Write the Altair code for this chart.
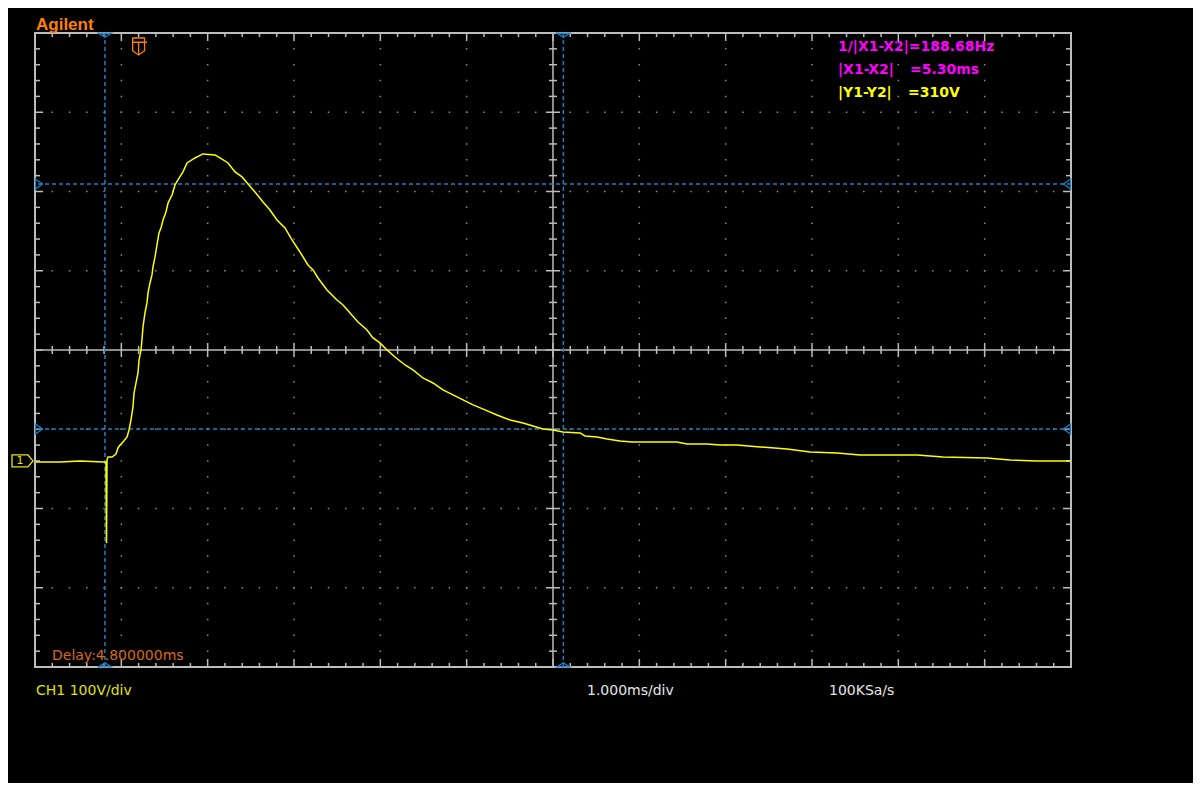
import altair as alt
import numpy as np
import pandas as pd

# ---------------- data (time in ms, voltage in V) ----------------
trace_t = [-1.19, -0.91, -0.68, -0.40, -0.378, -0.372, -0.366, -0.354, -0.308, -0.262,
           -0.239, -0.215, -0.181, -0.134, -0.111, -0.088, -0.065, -0.053, -0.030, -0.007,
           0.005, 0.028, 0.039, 0.051, 0.074, 0.097, 0.109, 0.132, 0.155, 0.167,
           0.190, 0.213, 0.236, 0.259, 0.283, 0.317, 0.341, 0.387, 0.422, 0.456,
           0.514, 0.561, 0.653, 0.746, 0.885, 0.943, 1.036, 1.117, 1.198, 1.267,
           1.348, 1.441, 1.522, 1.603, 1.696, 1.777, 1.869, 1.962, 2.020, 2.078,
           2.182, 2.298, 2.368, 2.449, 2.541, 2.646, 2.715, 2.796, 2.877, 2.970,
           3.086, 3.178, 3.294, 3.410, 3.526, 3.642, 3.758, 3.874, 4.012, 4.151,
           4.302, 4.453, 4.568, 4.684, 4.800, 4.916, 5.113, 5.171, 5.310, 5.426,
           5.576, 5.715, 6.236, 6.352, 6.584, 6.734, 6.931, 7.198, 7.510, 7.777,
           8.090, 8.356, 9.016, 9.317, 9.827, 10.093, 10.406, 10.788]
trace_v = [-1.3, -1.3, 0.0, -1.3, -1.0, -103.5, 1.3, 5.0, 5.0, 8.8,
           16.4, 20.2, 24.0, 30.3, 39.1, 51.7, 68.1, 85.8, 98.4, 111.0,
           127.4, 140.1, 152.7, 169.1, 186.7, 199.4, 212.0, 224.6, 234.7, 244.8,
           257.4, 272.5, 287.7, 294.0, 304.1, 314.2, 325.5, 335.6, 348.3, 354.6,
           364.7, 376.0, 382.3, 387.4, 386.1, 382.3, 376.0, 364.7, 358.4, 349.5,
           339.4, 326.8, 316.7, 304.1, 294.0, 278.9, 263.7, 247.3, 241.0, 230.9,
           215.8, 203.1, 196.8, 186.7, 175.4, 165.3, 155.2, 148.9, 140.1, 131.2,
           121.1, 114.8, 104.7, 98.4, 89.6, 83.3, 77.0, 70.7, 64.4, 58.0,
           51.7, 47.9, 44.2, 40.4, 39.1, 36.6, 35.3, 31.5, 30.3, 27.8,
           25.2, 24.0, 24.0, 21.5, 21.5, 20.2, 20.2, 17.7, 15.1, 11.4,
           10.1, 7.6, 7.6, 5.0, 3.8, 1.3, 0.0, 0.0]

x_cursors = [-0.39, 4.92]      # ms
y_cursors = [349.5, 40.4]      # V
trigger_t = [0.0]
ground_v = [0.0]

# scope screen: 12 div x 1 ms/div (delay 4.8 ms at centre), 8 div x 100 V/div
T_DIV, V_DIV = 1.0, 100.0
T_CENTER, V_CENTER = 4.8, 140.0
N_TDIV, N_VDIV = 12, 8
T_MIN, T_MAX = T_CENTER - 6 * T_DIV, T_CENTER + 6 * T_DIV
V_MIN, V_MAX = V_CENTER - 4 * V_DIV, V_CENTER + 4 * V_DIV

W, H = 1036, 634
MS_PER_PX = (T_MAX - T_MIN) / W
V_PER_PX = (V_MAX - V_MIN) / H

GRAY = "#bdbdbd"
DOT = "#8c8c8c"
BLUE = "#1f7fc0"
YELLOW = "#ffff00"
FONT = "DejaVu Sans"

xs = alt.Scale(domain=[T_MIN, T_MAX], nice=False, zero=False)
ys = alt.Scale(domain=[V_MIN, V_MAX], nice=False, zero=False)

# ---------------- grid ----------------
grid_t = [T_MIN + k * T_DIV for k in range(1, N_TDIV) if k != N_TDIV // 2]
grid_v = [V_MIN + k * V_DIV for k in range(1, N_VDIV) if k != N_VDIV // 2]

vgrid = alt.Chart(pd.DataFrame({"t": grid_t})).mark_rule(
    color=DOT, strokeWidth=1.5, strokeDash=[1.5, H / 40 - 1.5], strokeDashOffset=0.75
).encode(x=alt.X("t:Q", scale=xs, axis=None))
hgrid = alt.Chart(pd.DataFrame({"v": grid_v})).mark_rule(
    color=DOT, strokeWidth=1.5, strokeDash=[1.5, W / 60 - 1.5], strokeDashOffset=0.75
).encode(y=alt.Y("v:Q", scale=ys, axis=None))

centre_v = alt.Chart(pd.DataFrame({"t": [T_CENTER]})).mark_rule(color=GRAY, strokeWidth=1.5).encode(
    x=alt.X("t:Q", scale=xs, axis=None))
centre_h = alt.Chart(pd.DataFrame({"v": [V_CENTER]})).mark_rule(color=GRAY, strokeWidth=1.5).encode(
    y=alt.Y("v:Q", scale=ys, axis=None))

# ---------------- tick marks (frame + centre cross) ----------------
rows = []
for i in range(1, N_TDIV * 5):
    t = T_MIN + i * T_DIV / 5
    major = i % 5 == 0
    fl = (8 if major else 4) * V_PER_PX
    cl = (7 if major else 4) * V_PER_PX
    rows.append((t, V_MAX, V_MAX - fl))
    rows.append((t, V_MIN, V_MIN + fl))
    rows.append((t, V_CENTER - cl, V_CENTER + cl))
vt = pd.DataFrame(rows, columns=["t", "v1", "v2"])

rows = []
for i in range(1, N_VDIV * 5):
    v = V_MIN + i * V_DIV / 5
    major = i % 5 == 0
    fl = (8 if major else 5) * MS_PER_PX
    cl = (7 if major else 4) * MS_PER_PX
    rows.append((v, T_MIN, T_MIN + fl))
    rows.append((v, T_MAX - fl, T_MAX))
    rows.append((v, T_CENTER - cl, T_CENTER + cl))
ht = pd.DataFrame(rows, columns=["v", "t1", "t2"])

vticks = alt.Chart(vt).mark_rule(color=GRAY, strokeWidth=1.5).encode(
    x=alt.X("t:Q", scale=xs, axis=None), y=alt.Y("v1:Q", scale=ys, axis=None), y2="v2:Q")
hticks = alt.Chart(ht).mark_rule(color=GRAY, strokeWidth=1.5).encode(
    y=alt.Y("v:Q", scale=ys, axis=None), x=alt.X("t1:Q", scale=xs, axis=None), x2="t2:Q")

# ---------------- cursors ----------------
xcur = alt.Chart(pd.DataFrame({"t": x_cursors})).mark_rule(
    color=BLUE, strokeWidth=1.5, strokeDash=[4, 3]).encode(x=alt.X("t:Q", scale=xs, axis=None))
ycur = alt.Chart(pd.DataFrame({"v": y_cursors})).mark_rule(
    color=BLUE, strokeWidth=1.5, strokeDash=[4, 3]).encode(y=alt.Y("v:Q", scale=ys, axis=None))

xcur_top = alt.Chart(pd.DataFrame({"t": x_cursors})).mark_point(
    shape="M-1,-0.3L1,-0.3L0,0.35Z", size=169, filled=False, color=BLUE, strokeWidth=1.3, opacity=1
).encode(x=alt.X("t:Q", scale=xs, axis=None), y=alt.value(2))
xcur_bot = alt.Chart(pd.DataFrame({"t": x_cursors})).mark_point(
    shape="M-1,0.3L1,0.3L0,-0.35Z", size=169, filled=False, color=BLUE, strokeWidth=1.3, opacity=1
).encode(x=alt.X("t:Q", scale=xs, axis=None), y=alt.value(H - 2))
ycur_left = alt.Chart(pd.DataFrame({"v": y_cursors})).mark_point(
    shape="M-0.6,-1L0.8,0L-0.6,1Z", size=100, filled=False, color=BLUE, strokeWidth=1.3, opacity=1
).encode(y=alt.Y("v:Q", scale=ys, axis=None), x=alt.value(3.5))
ycur_right = alt.Chart(pd.DataFrame({"v": y_cursors})).mark_point(
    shape="M0.6,-1L-0.8,0L0.6,1Z", size=100, filled=False, color=BLUE, strokeWidth=1.3, opacity=1
).encode(y=alt.Y("v:Q", scale=ys, axis=None), x=alt.value(W - 3.5))

# trigger position marker (orange)
trig = alt.Chart(pd.DataFrame({"t": trigger_t})).mark_point(
    shape="M-0.7,-1L0.7,-1L0.7,0.5L0,1L-0.7,0.5Z M-0.7,-0.5L1,-0.5 M0,-0.5L0,0.9",
    size=289, filled=False, color="#ff8000", strokeWidth=1.3, opacity=1
).encode(x=alt.X("t:Q", scale=xs, axis=None), y=alt.value(13.5))

# ground reference marker for channel 1
gnd = alt.Chart(pd.DataFrame({"v": ground_v})).mark_point(
    shape="M-1,-0.57L0.52,-0.57L1,0L0.52,0.57L-1,0.57Z", size=441, filled=False,
    color="#e8e800", strokeWidth=1.3, opacity=1
).encode(y=alt.Y("v:Q", scale=ys, axis=None), x=alt.value(-12.5))
gnd_txt = alt.Chart(pd.DataFrame({"v": ground_v, "s": ["1"]})).mark_text(
    color="#e8e800", fontSize=11, font=FONT, align="center", baseline="middle"
).encode(y=alt.Y("v:Q", scale=ys, axis=None), x=alt.value(-15), text="s:N")

# ---------------- trace ----------------
trace = alt.Chart(pd.DataFrame({"t": trace_t, "v": trace_v})).mark_line(
    color=YELLOW, strokeWidth=1.5, interpolate="linear"
).encode(x=alt.X("t:Q", scale=xs, axis=None), y=alt.Y("v:Q", scale=ys, axis=None), order="t:Q")


def label(txt, x, y, color, size, weight="normal", font=FONT):
    return alt.Chart(pd.DataFrame({"s": [txt]})).mark_text(
        align="left", baseline="middle", color=color, fontSize=size, fontWeight=weight, font=font
    ).encode(text="s:N", x=alt.value(x), y=alt.value(y))


texts = [
    label("Agilent", 1, -8, "#ff8000", 17, "bold", "Liberation Sans"),
    label("1/|X1-X2|=188.68Hz", 803, 14, "#ff00ff", 14, "bold"),
    label("|X1-X2|", 803, 37, "#ff00ff", 14, "bold"),
    label("=5.30ms", 875, 37, "#ff00ff", 14, "bold"),
    label("|Y1-Y2|", 803, 60, YELLOW, 14, "bold"),
    label("=310V", 873, 60, YELLOW, 14, "bold"),
    label("Delay:4.800000ms", 17, 623, "#d86a10", 14),
    label("CH1 100V/div", 1, 658, "#e0e000", 14),
    label("1.000ms/div", 552, 658, "#e6e6e6", 14),
    label("100KSa/s", 794, 658, "#e6e6e6", 14),
]

chart = alt.layer(
    vgrid, hgrid, centre_v, centre_h, vticks, hticks,
    xcur, ycur, trace, xcur_top, xcur_bot, ycur_left, ycur_right, trig, gnd, gnd_txt,
    *texts
).properties(
    width=W, height=H,
    padding={"left": 27, "top": 25, "right": 122, "bottom": 116},
    autosize=alt.AutoSizeParams(type="none"),
).configure(background="black").configure_view(stroke=GRAY, strokeWidth=2)

chart.save("out.html", embed_options={"renderer": "svg", "actions": False})
